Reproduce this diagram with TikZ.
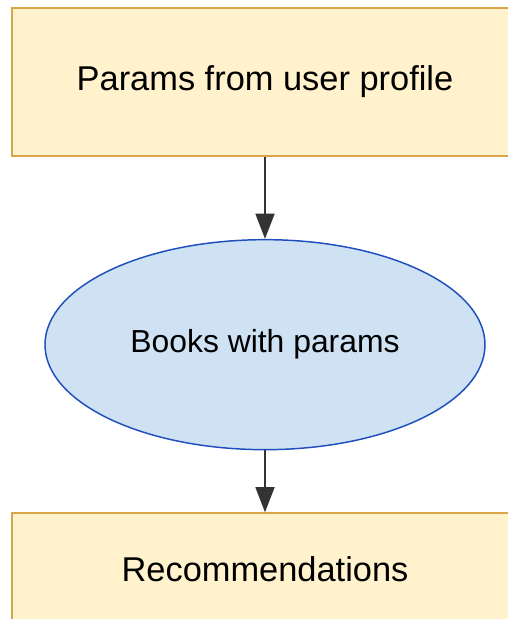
\documentclass[tikz,border=0pt]{standalone}
\usepackage{fontspec}
\setmainfont{Liberation Sans}
\usetikzlibrary{arrows.meta,positioning,shapes.geometric}
\definecolor{recfill}{HTML}{FFF2CC}
\definecolor{recdraw}{HTML}{D9A54A}
\definecolor{bkfill}{HTML}{CFE2F3}
\definecolor{bkdraw}{HTML}{1F4EBF}
\definecolor{recgray}{HTML}{333333}

\begin{document}
\begin{tikzpicture}[
  x=0.75pt, y=-0.75pt,
  box/.style={draw=recdraw, fill=recfill, line width=1.4pt, align=center,
              font=\fontsize{25.8}{30}\selectfont, minimum width=379.5pt, inner sep=0pt},
  oval/.style={ellipse, draw=bkdraw, fill=bkfill, line width=1.1pt,
               font=\fontsize{23.9}{28}\selectfont, minimum width=330pt,
               minimum height=157.5pt, inner sep=0pt},
  arr/.style={-{Triangle[length=19pt, width=14pt]}, line width=2.2pt, recgray}
]
\useasboundingbox (0,0) rectangle (508,619);
\clip (0,0) rectangle (508,619);
\node[box, minimum height=111pt] (profile) at (265,82) {Params from user profile};
\node[oval, below=61.5pt of profile] (books) {Books with params};
\node[box, minimum height=84pt, below=46.5pt of books.south, anchor=north] (recs) {Recommendations};
\draw[arr] (profile) -- (books);
\draw[arr] (books) -- (recs);
\end{tikzpicture}
\end{document}
